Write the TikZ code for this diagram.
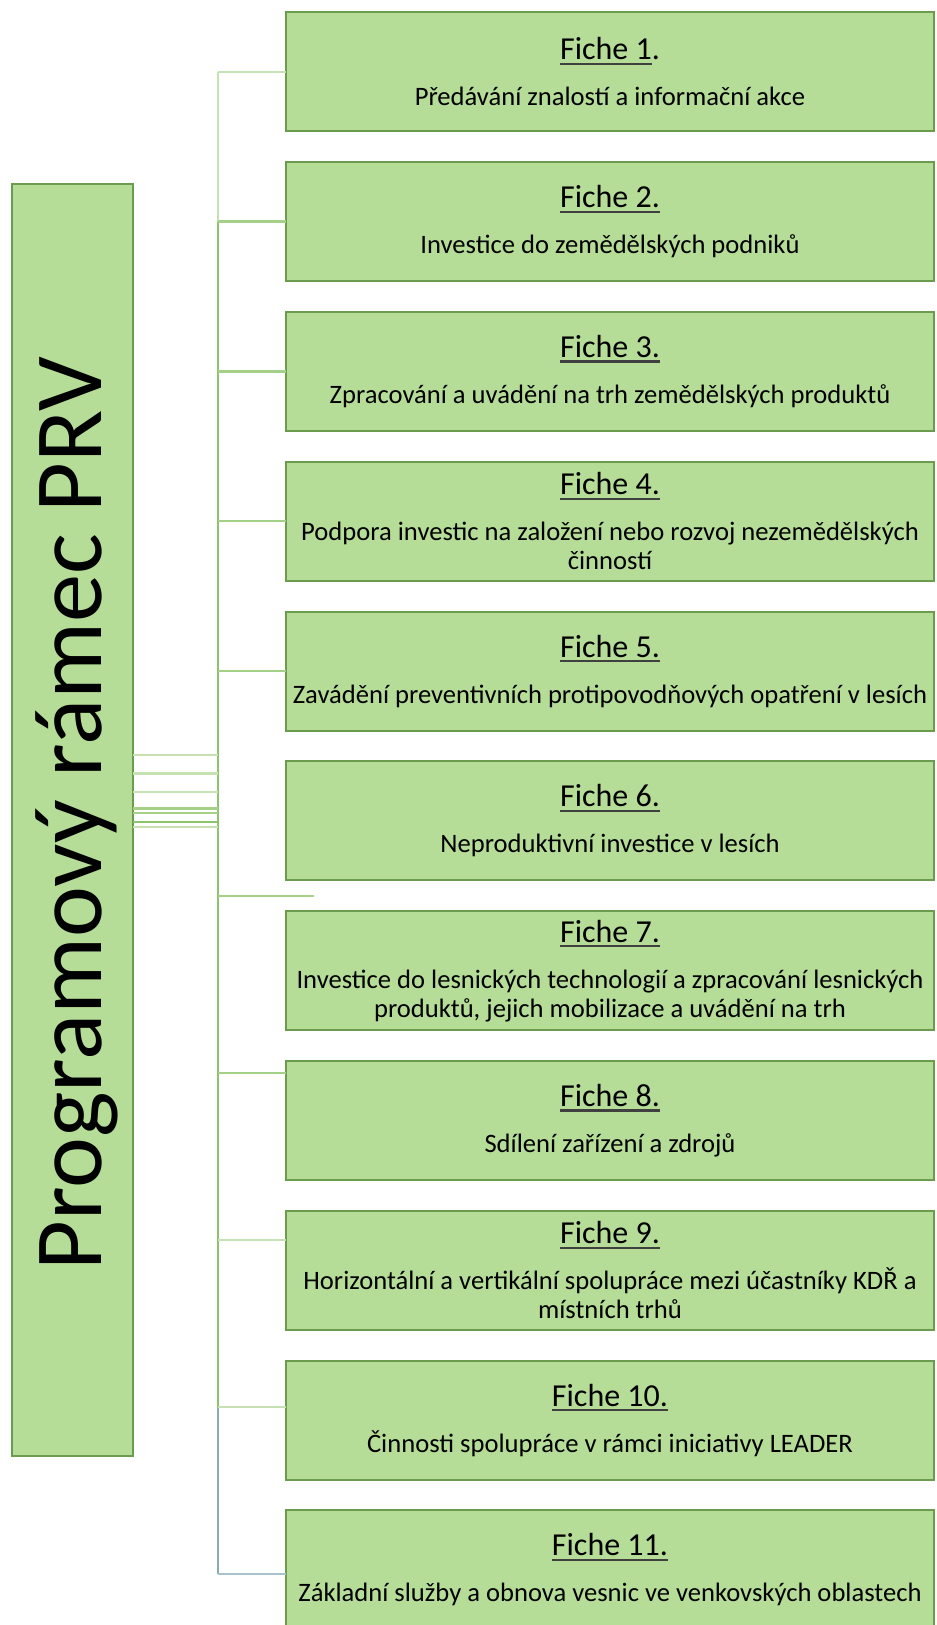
\documentclass[tikz,border=0pt]{standalone}
\usepackage{fontspec}
\setmainfont{Carlito}
\usetikzlibrary{positioning}

\definecolor{boxfill}{HTML}{B5DD98}
\definecolor{boxline}{HTML}{6B9B4C}
\definecolor{spinegreen}{HTML}{8CC46C}
\definecolor{stubpale}{HTML}{C6E2B3}
\definecolor{stubgreen}{HTML}{A4D088}
\definecolor{spineblue}{HTML}{86ADAA}
\definecolor{stubblue}{HTML}{A9C3CC}

% underlined fiche title with a heavier rule
\newcommand{\fichehead}[1]{\setbox0\hbox{#1}\rlap{\color{black!75}\rule[-2.6pt]{\wd0}{1.1pt}}\box0}

\begin{document}
\begin{tikzpicture}[x=0.5pt, y=-0.5pt,
    fiche/.style={draw=boxline, line width=1pt, fill=boxfill,
      minimum width=324pt, minimum height=59.5pt, inner sep=0pt, outer sep=0pt,
      align=center, font=\fontsize{13.3}{14.5}\selectfont},
    conn/.style={line width=1.2pt}]
  \useasboundingbox (0,0) rectangle (936,1625);
  \clip (0,0) rectangle (936,1625);

  % left block
  \node[draw=boxline, line width=1pt, fill=boxfill, minimum width=60.5pt,
        minimum height=635.8pt, outer sep=0pt] (prog) at (72.5,820) {};
  \node[rotate=90, anchor=base, font=\fontsize{48.2}{48.2}\selectfont]
        (progtext) at (101.6,813.6) {Programový rámec PRV};

  % fiches
  \node[fiche, anchor=north west] (f1) at (286,12.4)
    {{\fontsize{16}{16}\selectfont\fichehead{Fiche 1}.}\\[8.5pt]
     Předávání znalostí a informační akce};
  \node[fiche, below=15.4pt of f1] (f2)
    {{\fontsize{16}{16}\selectfont\fichehead{Fiche 2.}}\\[8.5pt]
     Investice do zemědělských podniků};
  \node[fiche, below=15.4pt of f2] (f3)
    {{\fontsize{16}{16}\selectfont\fichehead{Fiche 3.}}\\[8.5pt]
     Zpracování a uvádění na trh zemědělských produktů};
  \node[fiche, below=15.4pt of f3] (f4)
    {{\fontsize{16}{16}\selectfont\fichehead{Fiche 4.}}\\[8.5pt]
     Podpora investic na založení nebo rozvoj nezemědělských\\
     činností};
  \node[fiche, below=15.4pt of f4] (f5)
    {{\fontsize{16}{16}\selectfont\fichehead{Fiche 5.}}\\[8.5pt]
     Zavádění preventivních protipovodňových opatření v lesích};
  \node[fiche, below=15.4pt of f5] (f6)
    {{\fontsize{16}{16}\selectfont\fichehead{Fiche 6.}}\\[8.5pt]
     Neproduktivní investice v lesích};
  \node[fiche, below=15.4pt of f6] (f7)
    {{\fontsize{16}{16}\selectfont\fichehead{Fiche 7.}}\\[8.5pt]
     Investice do lesnických technologií a zpracování lesnických\\
     produktů, jejich mobilizace a uvádění na trh};
  \node[fiche, below=15.4pt of f7] (f8)
    {{\fontsize{16}{16}\selectfont\fichehead{Fiche 8.}}\\[8.5pt]
     Sdílení zařízení a zdrojů};
  \node[fiche, below=15.4pt of f8] (f9)
    {{\fontsize{16}{16}\selectfont\fichehead{Fiche 9.}}\\[8.5pt]
     Horizontální a vertikální spolupráce mezi účastníky KDŘ a\\
     místních trhů};
  \node[fiche, below=15.4pt of f9] (f10)
    {{\fontsize{16}{16}\selectfont\fichehead{Fiche 10.}}\\[8.5pt]
     Činnosti spolupráce v rámci iniciativy LEADER};
  \node[fiche, below=15.4pt of f10] (f11)
    {{\fontsize{16}{16}\selectfont\fichehead{Fiche 11.}}\\[8.5pt]
     Základní služby a obnova vesnic ve venkovských oblastech};

  % spine and joints
  \coordinate (sp) at (218,0);
  \coordinate (j6) at (218,896);
  \coordinate (loose) at (314,896);
  \coordinate (j8) at (218,1073);
  \coordinate (j9) at (218,1240);
  \coordinate (j10) at (218,1407);
  \coordinate (j11) at (218,1574);

  \draw[conn, stubpale] (sp |- f1.west) -- (sp |- f2.west);
  \draw[conn, spinegreen] (sp |- f2.west) -- (j10);
  \draw[conn, spineblue] (j10) -- (j11);

  % stubs to the fiches
  \draw[conn, stubpale] (sp |- f1.west) -- (f1.west);
  \draw[conn, stubgreen] (sp |- f2.west) -- (f2.west);
  \draw[conn, stubgreen] (sp |- f3.west) -- (f3.west);
  \draw[conn, stubgreen] (sp |- f4.west) -- (f4.west);
  \draw[conn, stubgreen] (sp |- f5.west) -- (f5.west);
  \draw[conn, stubgreen] (j6) -- (loose);
  \draw[conn, stubgreen] (j8) -- (j8 -| f8.west);
  \draw[conn, stubpale] (j9) -- (j9 -| f9.west);
  \draw[conn, stubpale] (j10) -- (j10 -| f10.west);
  \draw[conn, stubblue] (j11) -- (j11 -| f11.west);

  % bundle from the left block to the spine
  \foreach \y/\c in {755/stubpale, 773.3/stubpale, 791.7/stubpale,
                     808.3/stubgreen, 812.7/stubgreen, 821.7/spinegreen,
                     826.7/stubpale} {
    \coordinate (l) at (0,\y);
    \draw[conn, \c] (prog.east |- l) -- (sp |- l);
  }
\end{tikzpicture}
\end{document}
